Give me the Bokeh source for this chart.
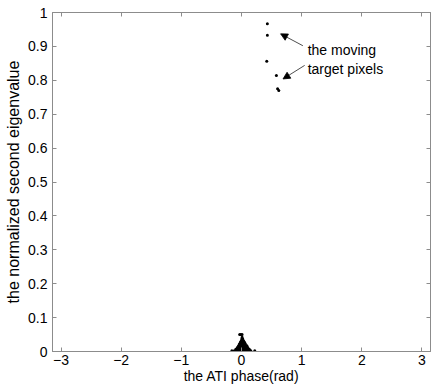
from bokeh.plotting import figure
from bokeh.models import Range1d, FixedTicker, LinearAxis, Arrow, NormalHead, Label
from bokeh.embed import file_html
from bokeh.resources import INLINE

# moving target pixels
target_x = [0.43, 0.43, 0.42, 0.58, 0.60, 0.62]
target_y = [0.967, 0.933, 0.856, 0.814, 0.775, 0.770]

# clutter pixels near zero phase
cluster_x = [-0.12, -0.095, -0.07, -0.045, -0.02, 0.005, 0.03, 0.055, 0.08, 0.105, 0.13, 0.155,
             -0.095, -0.07, -0.045, -0.02, 0.005, 0.03, 0.055, 0.08, 0.105, 0.13,
             -0.07, -0.045, -0.02, 0.005, 0.03, 0.055, 0.08, 0.105,
             -0.05, -0.025, 0.0, 0.025, 0.05, 0.075, 0.09,
             -0.035, -0.01, 0.015, 0.04, 0.065,
             -0.02, 0.005, 0.03, 0.05,
             -0.005, 0.015, 0.035,
             0.005, 0.02,
             0.01,
             -0.03, -0.01, 0.01,
             -0.16, 0.22]
cluster_y = [0.002] * 12 + [0.007] * 10 + [0.012] * 8 + [0.017] * 7 + [0.022] * 5 + \
            [0.027] * 4 + [0.032] * 3 + [0.037] * 2 + [0.042] * 1 + [0.05] * 3 + [0.002, 0.002]

x_ticks = [-3, -2, -1, 0, 1, 2, 3]
y_ticks = [0, 0.1, 0.2, 0.3, 0.4, 0.5, 0.6, 0.7, 0.8, 0.9, 1]
y_tick_labels = ["0", "0.1", "0.2", "0.3", "0.4", "0.5", "0.6", "0.7", "0.8", "0.9", "1"]

FONT = "Liberation Sans"
GRAY = "#8c8c8c"

p = figure(width=431, height=386, output_backend="svg", toolbar_location=None,
           x_range=Range1d(-3.1416, 3.1416), y_range=Range1d(0, 1),
           min_border_left=52, min_border_right=1, min_border_top=12, min_border_bottom=35)
p.background_fill_color = "white"
p.border_fill_color = "white"
p.grid.visible = False
p.outline_line_color = GRAY

p.xaxis.ticker = FixedTicker(ticks=x_ticks)
p.yaxis.ticker = FixedTicker(ticks=y_ticks)
p.yaxis.major_label_overrides = {t: l for t, l in zip(y_ticks, y_tick_labels)}
for ax in (p.xaxis[0], p.yaxis[0]):
    ax.axis_line_color = GRAY
    ax.major_tick_line_color = GRAY
    ax.major_tick_in = 4
    ax.major_tick_out = 0
    ax.minor_tick_line_color = None
    ax.major_label_text_font = FONT
    ax.major_label_text_font_size = "14px"
    ax.major_label_text_color = "black"
    ax.axis_label_text_font = FONT
    ax.axis_label_text_font_style = "normal"
    ax.axis_label_text_color = "black"
p.xaxis.axis_label = "the ATI phase(rad)"
p.yaxis.axis_label = "the normalized second eigenvalue"
p.xaxis.axis_label_text_font_size = "14px"
p.yaxis.axis_label_text_font_size = "16px"
p.xaxis.major_label_standoff = 3
p.xaxis.axis_label_standoff = 0
p.yaxis.major_label_standoff = 5
p.yaxis.axis_label_standoff = 3

for loc, tick in (("above", x_ticks), ("right", y_ticks)):
    ax = LinearAxis(ticker=FixedTicker(ticks=tick), axis_line_color=GRAY,
                    major_tick_line_color=GRAY, major_tick_in=4, major_tick_out=0,
                    minor_tick_line_color=None, major_label_text_font_size="1px",
                    major_label_text_color=None, major_label_standoff=0)
    p.add_layout(ax, loc)

p.scatter(cluster_x, cluster_y, size=3, color="black", line_width=0)
p.scatter(target_x, target_y, size=3, color="black", line_width=0)

p.add_layout(Arrow(end=NormalHead(size=7, fill_color="black", line_color="black", line_width=0.8),
                   x_start=1.02, y_start=0.902, x_end=0.65, y_end=0.937,
                   line_color="black", line_width=0.7))
p.add_layout(Arrow(end=NormalHead(size=7, fill_color="black", line_color="black", line_width=0.8),
                   x_start=1.05, y_start=0.844, x_end=0.69, y_end=0.804,
                   line_color="black", line_width=0.7))
p.add_layout(Label(x=1.10, y=0.888, text="the moving", text_font=FONT, text_font_size="14px",
                   text_baseline="middle", text_color="black"))
p.add_layout(Label(x=1.10, y=0.834, text="target pixels", text_font=FONT, text_font_size="14px",
                   text_baseline="middle", text_color="black"))

open("out.html", "w").write(file_html(p, INLINE))
